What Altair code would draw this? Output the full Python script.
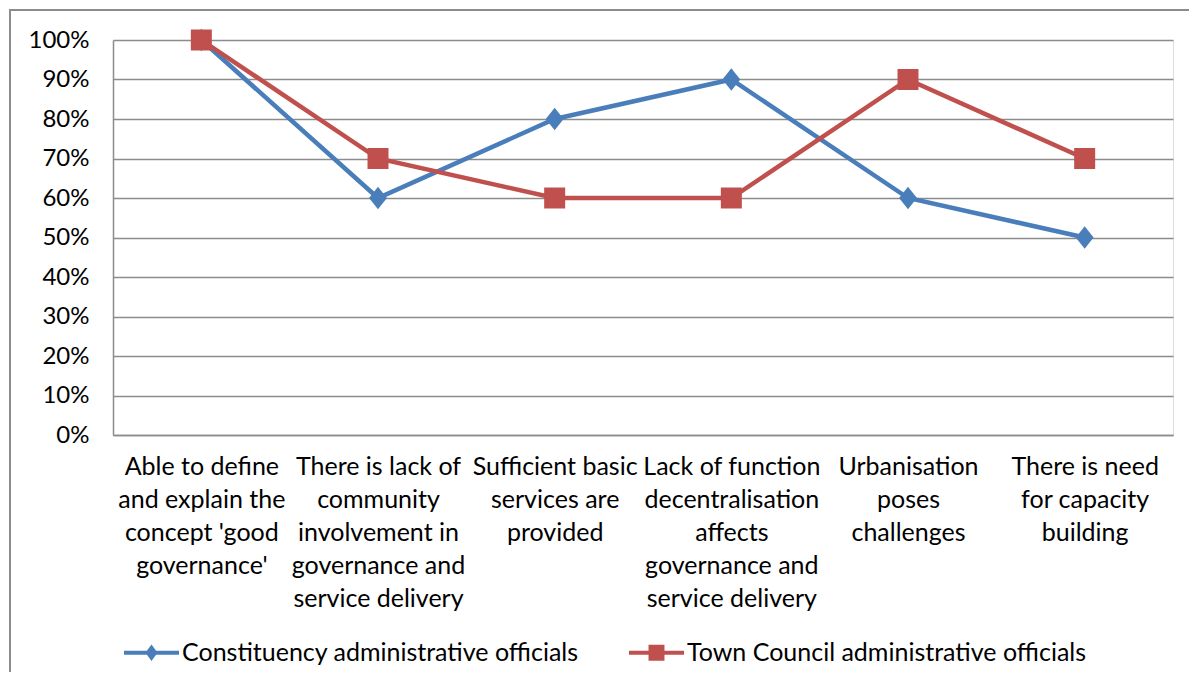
import altair as alt
import pandas as pd

categories = [
    "Able to define\nand explain the\nconcept 'good\ngovernance'",
    "There is lack of\ncommunity\ninvolvement in\ngovernance and\nservice delivery",
    "Sufficient basic\nservices are\nprovided",
    "Lack of function\ndecentralisation\naffects\ngovernance and\nservice delivery",
    "Urbanisation\nposes\nchallenges",
    "There is need\nfor capacity\nbuilding",
]
series_names = ["Constituency administrative officials", "Town Council administrative officials"]
constituency = [1.00, 0.60, 0.80, 0.90, 0.60, 0.50]
town_council = [1.00, 0.70, 0.60, 0.60, 0.90, 0.70]
colors = ["#4A7EBB", "#C0504D"]

rows = []
for s, vals in zip(series_names, [constituency, town_council]):
    for i, (c, v) in enumerate(zip(categories, vals)):
        rows.append({"category": c, "series": s, "value": v, "order": i})
df = pd.DataFrame(rows)

FONT = "Lato"
GRID = "#8C8C8C"

DIAMOND = "M0,-1L0.8,0L0,1L-0.8,0Z"
LEG_DIAMOND = "M-1,-0.075H1V0.075H-1Z M0,-0.3L0.22,0L0,0.3L-0.22,0Z"
LEG_SQUARE = "M-1,-0.075H1V0.075H-1Z M-0.29,-0.29H0.29V0.29H-0.29Z"

x_enc = alt.X("category:N", sort=categories,
              scale=alt.Scale(type="point", padding=0.5),
              axis=alt.Axis(title=None, labelAngle=0, ticks=False, domainColor=GRID, domainWidth=1.5,
                            labelExpr="split(datum.label, '\\n')", labelLineHeight=33,
                            labelBaseline="top", labelPadding=19, labelFontSize=25,
                            labelLimit=400, labelColor="#000000", labelFont=FONT))
y_enc = alt.Y("value:Q", scale=alt.Scale(domain=[0, 1], nice=False),
              axis=alt.Axis(title=None, format=".0%", values=[i / 10 for i in range(11)],
                            ticks=False, grid=True, gridColor=GRID, gridWidth=1.3,
                            domainColor=GRID, domainWidth=1.5, labelPadding=24,
                            labelFontSize=24, labelColor="#000000", labelFont=FONT))
color_scale = alt.Scale(domain=series_names, range=colors)

base = alt.Chart(df)

# legend-only layer: no rows drawn, entries come from the explicit scale domain
legend_layer = base.transform_filter("false").mark_point(filled=True, opacity=1, strokeWidth=0).encode(
    x=x_enc, y=y_enc,
    color=alt.Color("series:N", scale=color_scale,
                    legend=alt.Legend(title=None, orient="none", direction="horizontal",
                                      legendX=11, legendY=585,
                                      symbolSize=3025, symbolStrokeWidth=0, symbolOpacity=1,
                                      labelFont=FONT, labelFontSize=25, labelColor="#000000",
                                      labelOffset=3, columnPadding=50, labelLimit=600)),
    shape=alt.Shape("series:N", scale=alt.Scale(domain=series_names,
                                                range=[LEG_DIAMOND, LEG_SQUARE])),
)

layers = [legend_layer]
for s, col in zip(series_names, colors):
    layers.append(base.transform_filter(alt.datum.series == s).mark_line(
        strokeWidth=4.5, color=col).encode(x=x_enc, y=y_enc, order="order:Q"))

pts_blue = base.transform_filter(alt.datum.series == series_names[0]).mark_point(
    filled=True, opacity=1, size=500, strokeWidth=0, shape=DIAMOND, color=colors[0]
).encode(x=x_enc, y=y_enc)

pts_red = base.transform_filter(alt.datum.series == series_names[1]).mark_point(
    filled=True, opacity=1, size=441, strokeWidth=0, shape="square", color=colors[1]
).encode(x=x_enc, y=y_enc)

frame = alt.Chart(pd.DataFrame({"a": [0]})).mark_rect(
    fill=None, stroke="#8C8C8C", strokeWidth=2, clip=False
).encode(x=alt.value(-103), x2=alt.value(1200), y=alt.value(-30), y2=alt.value(700))

chart = alt.layer(*layers, pts_blue, pts_red, frame).properties(
    width=1060, height=395,
    autosize=alt.AutoSizeParams(type="none"),
    padding={"left": 105, "top": 32, "right": 16, "bottom": 237},
).configure_view(stroke=None).configure(background="white")

chart.save("out.html", embed_options={"renderer": "svg", "actions": False})
